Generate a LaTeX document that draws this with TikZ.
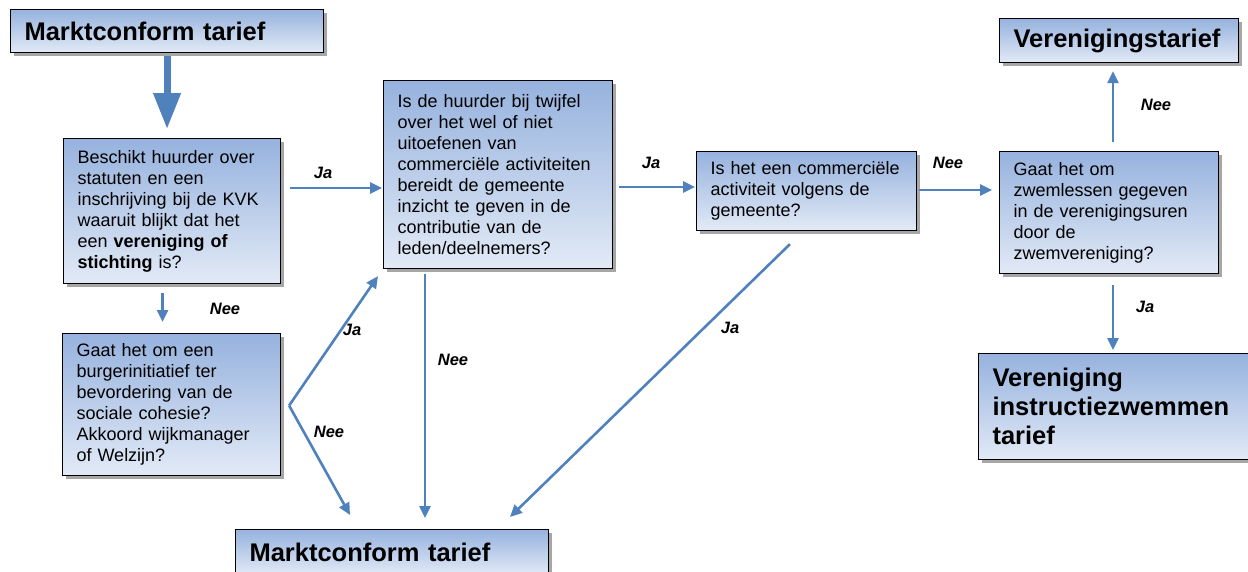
\documentclass[tikz,border=0pt]{standalone}
\usepackage{fontspec}
\setmainfont{Liberation Sans}
\usetikzlibrary{calc,arrows.meta,shadows}
\definecolor{arrowblue}{RGB}{79,129,189}
\definecolor{boxtop}{RGB}{150,178,222}
\definecolor{boxbot}{RGB}{226,234,246}
\tikzset{
  box/.style={draw=black, line width=1.1pt, top color=boxtop, bottom color=boxbot,
    anchor=north west, align=left, inner xsep=14pt, inner ysep=0pt,
    font=\fontsize{18}{21}\selectfont,
    drop shadow={shadow xshift=3pt, shadow yshift=-3pt, opacity=0.35, fill=black}},
  titlebox/.style={box, font=\fontsize{25.5}{29}\selectfont\bfseries},
  flow/.style={draw=arrowblue, line width=2.6pt, -{Triangle[length=12pt,width=11pt]}},
  plainflow/.style={draw=arrowblue, line width=2.6pt},
  bigflow/.style={draw=arrowblue, line width=7pt, -{Triangle[length=36pt,width=26pt]}},
  lbl/.style={font=\fontsize{16.5}{18}\selectfont\bfseries\itshape, inner sep=0pt}
}
\begin{document}
\begin{tikzpicture}[x=1pt,y=-1pt]
\useasboundingbox (0,0) rectangle (1248,572);

\node[titlebox, minimum width=313pt, minimum height=43pt, text width=285pt] (T1) at (10,9) {Marktconform tarief};
\node[titlebox, minimum width=239pt, minimum height=44pt, text width=211pt] (T2) at (999,18) {Verenigingstarief};
\node[titlebox, minimum width=272pt, minimum height=106pt, text width=244pt] (T3) at (978,353) {Vereniging\\instructiezwemmen\\tarief};
\node[titlebox, minimum width=313pt, minimum height=45pt, text width=285pt] (T4) at (235,529) {Marktconform tarief};

\node[box, minimum width=217pt, minimum height=145pt, text width=189pt] (A) at (63,138)
  {Beschikt huurder over\\statuten en een\\inschrijving bij de KVK\\waaruit blijkt dat het\\een \textbf{vereniging of}\\\textbf{stichting} is?};
\node[box, minimum width=218pt, minimum height=142pt, text width=190pt] (B) at (62,333)
  {Gaat het om een\\burgerinitiatief ter\\bevordering van de\\sociale cohesie?\\Akkoord wijkmanager\\of Welzijn?};
\node[box, minimum width=229pt, minimum height=188pt, text width=201pt] (C) at (383,80)
  {Is de huurder bij twijfel\\over het wel of niet\\uitoefenen van\\commerciële activiteiten\\bereidt de gemeente\\inzicht te geven in de\\contributie van de\\leden/deelnemers?};
\node[box, minimum width=220pt, minimum height=79pt, text width=192pt] (D) at (696,151)
  {Is het een commerciële\\activiteit volgens de\\gemeente?};
\node[box, minimum width=219pt, minimum height=122pt, text width=191pt] (E) at (999,151)
  {Gaat het om\\zwemlessen gegeven\\in de verenigingsuren\\door de\\zwemvereniging?};

% connectors
\draw[bigflow] ($(T1.south)+(0,3)$) -- ($(T1.south)+(0,76)$);
\draw[flow] ($(A.north east)+(9,50)$) -- ($(C.north west)+(-1,108)$);
\draw[flow] ($(A.south)+(-9.5,9)$) -- ($(B.north)+(-9,-11)$);
\coordinate (sp) at ($(B.east)+(8,1)$);
\draw[flow] (sp) -- ($(C.south west)+(-5,7)$);
\draw[flow] (sp) -- ($(T4.north west)+(115,-14)$);
\draw[flow] ($(C.south west)+(42,5)$) -- ($(T4.north west)+(190,-11)$);
\draw[flow] ($(C.north east)+(6,107)$) -- ($(D.north west)+(-1,36)$);
\draw[flow] ($(D.south west)+(94,13)$) -- ($(T4.north west)+(275,-12)$);
\draw[flow] ($(D.north east)+(2,39)$) -- ($(E.north west)+(-7,39)$);
\draw[flow] ($(E.north west)+(114,-9)$) -- ($(T2.south west)+(114,8)$);
\draw[flow] ($(E.south west)+(114,11)$) -- ($(T3.north west)+(135,-3)$);

% labels
\node[lbl] (l1) at (323,173) {Ja};
\node[lbl] (l2) at (225,309) {Nee};
\node[lbl] (l3) at (352,330) {Ja};
\node[lbl] (l4) at (329,432) {Nee};
\node[lbl] (l5) at (453,360) {Nee};
\node[lbl] (l6) at (651,163) {Ja};
\node[lbl] (l7) at (730,328) {Ja};
\node[lbl] (l8) at (948,163) {Nee};
\node[lbl] (l9) at (1156,105) {Nee};
\node[lbl] (l10) at (1145,307) {Ja};
\end{tikzpicture}
\end{document}
